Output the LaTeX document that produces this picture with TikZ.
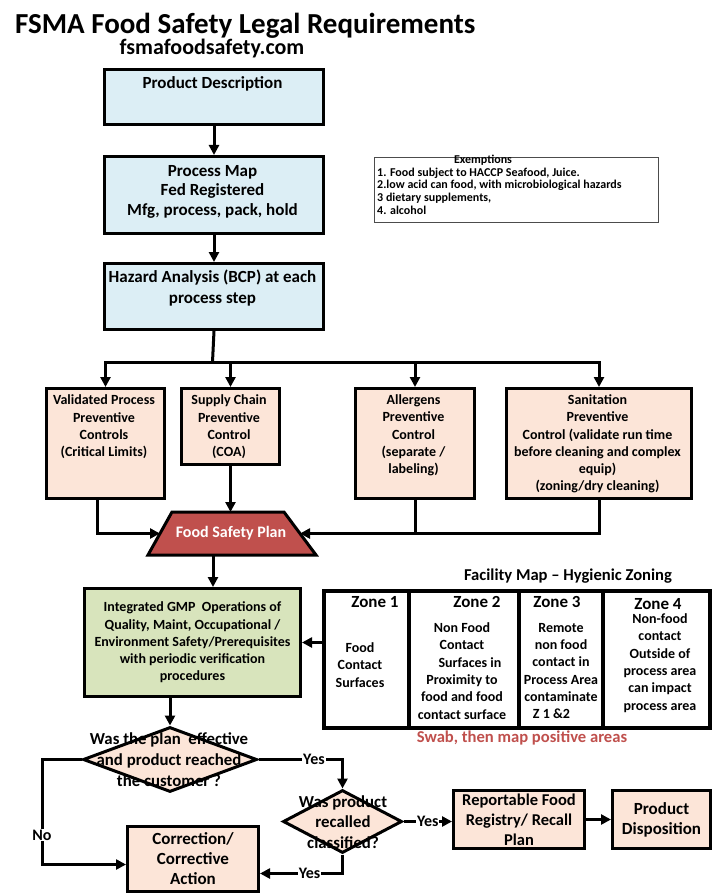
\documentclass[tikz,border=0pt]{standalone}
\usepackage{fontspec}
\setmainfont{Carlito}
\usetikzlibrary{arrows.meta,shapes.geometric,calc}
\definecolor{boxblue}{HTML}{DCEEF5}
\definecolor{boxpeach}{HTML}{FCE5D8}
\definecolor{boxgreen}{HTML}{D8E4BC}
\definecolor{planred}{HTML}{C0504D}
\begin{document}
\begin{tikzpicture}[x=1pt,y=-1pt,
  flowbox/.style={draw=black, line width=3pt, inner sep=0pt, anchor=north west, align=center},
  bluebox/.style={flowbox, fill=boxblue},
  peachbox/.style={flowbox, fill=boxpeach},
  greenbox/.style={flowbox, fill=boxgreen},
  zonecell/.style={draw=black, line width=4pt, fill=white, inner sep=0pt, anchor=north west},
  ftxt/.style={font=\bfseries\fontsize{14}{17.3}\selectfont, align=center, inner sep=0pt},
  btxt/.style={font=\bfseries\fontsize{17}{19.5}\selectfont, align=center, inner sep=0pt},
  ztitle/.style={font=\bfseries\fontsize{17}{20}\selectfont, inner sep=0pt},
  extxt/.style={font=\bfseries\fontsize{12}{12.7}\selectfont, inner sep=0pt},
  decision/.style={diamond, draw=black, line width=3pt, fill=boxpeach, inner sep=0pt},
  conn/.style={line width=3pt, -{Triangle[length=10pt,width=10pt]}},
  wire/.style={line width=3pt},
  lbl/.style={font=\bfseries\fontsize{16}{19}\selectfont, fill=white, inner sep=1pt}
]
\useasboundingbox[fill=white] (0,0) rectangle (712,896);

% titles
\node[font=\bfseries\fontsize{29}{33}\selectfont, anchor=base west, inner sep=0pt] (title) at (15,33.5) {FSMA Food Safety Legal Requirements};
\node[font=\bfseries\fontsize{22}{26}\selectfont, anchor=base, inner sep=0pt] (site) at (212,54.5) {fsmafoodsafety.com};

% top chain
\node[bluebox, minimum width=219pt, minimum height=55pt] (pd) at (103,68) {};
\node[btxt] (pdt) at (212.5,84) {Product Description};
\node[bluebox, minimum width=219pt, minimum height=77pt] (pm) at (103,155) {};
\node[btxt] (pmt) at (212.5,191.5) {Process Map\\Fed Registered\\Mfg, process, pack, hold};
\node[bluebox, minimum width=219pt, minimum height=66pt] (ha) at (103,262) {};
\node[btxt, font=\bfseries\fontsize{17}{21}\selectfont] (hat) at (212.5,288.5) {Hazard Analysis (BCP) at each\\process step};

% exemptions
\node[draw=black!70, line width=0.8pt, minimum width=284pt, minimum height=65pt, anchor=north west, inner sep=0pt] (ex) at (374,157) {};
\node[extxt] (ext) at (483,160) {Exemptions};
\node[extxt, align=left, anchor=west] (exl) at (377,191) {1. Food subject to HACCP Seafood, Juice.\\2.low acid can food, with microbiological hazards\\3 dietary supplements,\\4. alcohol};

% control boxes
\node[peachbox, minimum width=118pt, minimum height=110pt] (vp) at (45,387) {};
\node[ftxt] (vpt) at (104,427) {Validated Process\\Preventive\\Controls\\(Critical Limits)};
\node[peachbox, minimum width=98pt, minimum height=76pt] (sc) at (180,387) {};
\node[ftxt] (sct) at (229,427) {Supply Chain\\Preventive\\Control\\(COA)};
\node[peachbox, minimum width=119pt, minimum height=110pt] (al) at (354,387) {};
\node[ftxt] (alt) at (413.5,435.5) {Allergens\\Preventive\\Control\\(separate /\\labeling)};
\node[peachbox, minimum width=185pt, minimum height=110pt] (sn) at (505,387) {};
\node[ftxt] (snt) at (597.5,444) {Sanitation\\Preventive\\Control (validate run time\\before cleaning and complex\\equip)\\(zoning/dry cleaning)};

% food safety plan (trapezoid)
\coordinate (fsptl) at (172,512);
\coordinate (fsptr) at (284,512);
\coordinate (fspbr) at (316,555);
\coordinate (fspbl) at (148,555);
\draw[fill=planred, line width=3pt, line join=miter] (fsptl) -- (fsptr) -- (fspbr) -- (fspbl) -- cycle;
\node[text=white, font=\bfseries\fontsize{16}{19}\selectfont, inner sep=0pt] (fsp) at (231,533.5) {Food Safety Plan};
\coordinate (fspw) at ($(fsptl)!0.5!(fspbl)$);
\coordinate (fspe) at ($(fsptr)!0.5!(fspbr)$);
\coordinate (fspout) at (213,555);

% GMP
\node[greenbox, minimum width=216pt, minimum height=108pt, font=\bfseries\fontsize{14}{17.2}\selectfont] (gmp) at (83,587)
  {Integrated GMP\ \ Operations of\\Quality, Maint, Occupational /\\Environment Safety/Prerequisites\\with periodic verification\\procedures};

% zone table
\node[font=\bfseries\fontsize{16.6}{19}\selectfont, inner sep=0pt] (fm) at (568,576) {Facility Map -- Hygienic Zoning};
\node[zonecell, minimum width=85pt, minimum height=137pt] (z1) at (322,589) {};
\node[zonecell, minimum width=110pt, minimum height=137pt] (z2) at (407,589) {};
\node[zonecell, minimum width=84pt, minimum height=137pt] (z3) at (517,589) {};
\node[zonecell, minimum width=107pt, minimum height=137pt] (z4) at (601,589) {};
\node[ztitle] (z1t) at (375,602) {Zone 1};
\node[ztitle] (z2t) at (477,602) {Zone 2};
\node[ztitle] (z3t) at (557,602) {Zone 3};
\node[ztitle] (z4t) at (658,604) {Zone 4};
\node[ftxt] (z1b) at (360,665) {Food\\Contact\\Surfaces};
\node[ftxt] (z2b) at (462,671) {Non Food\\Contact\\\hspace*{16pt}Surfaces in\\Proximity to\\food and food\\contact surface};
\node[ftxt] (z3b) at (561,671) {Remote\\non food\\contact in\\Process Area\\contaminate\\Z 1 \&2\kern19pt};
\node[ftxt] (z4b) at (660,663) {Non-food\\contact\\Outside of\\process area\\can impact\\process area};
\node[font=\bfseries\fontsize{16.6}{19}\selectfont, text=planred, inner sep=0pt] (swab) at (522,738) {Swab, then map positive areas};

% decisions and actions
\node[decision, minimum width=174pt, minimum height=65pt] (d1) at (170,759.5) {};
\node[btxt, font=\bfseries\fontsize{16.8}{21}\selectfont] (d1t) at (169,760) {Was the plan\ \ effective\\and product reached\\the customer ?};
\node[decision, minimum width=119pt, minimum height=63pt] (d2) at (342.5,821.5) {};
\node[btxt, font=\bfseries\fontsize{16.8}{20.5}\selectfont] (d2t) at (343,822) {Was product\\recalled\\classified?};
\node[peachbox, minimum width=131pt, minimum height=58pt, font=\bfseries\fontsize{16.5}{20}\selectfont] (rep) at (452,789) {Reportable Food\\Registry/ Recall\\Plan};
\node[peachbox, minimum width=98pt, minimum height=58pt, font=\bfseries\fontsize{17}{20}\selectfont] (pdisp) at (611,789) {Product\\Disposition};
\node[peachbox, minimum width=131pt, minimum height=65pt, font=\bfseries\fontsize{17}{20}\selectfont] (corr) at (126,825) {Correction/\\Corrective\\Action};
\coordinate (nocorner) at (42,759.5);
\coordinate (bus) at (212.5,362);

% connectors
\draw[conn] (pd.south) -- (pm.north);
\draw[conn] (pm.south) -- (ha.north);
\draw[wire] (ha.south) -- (bus);
\draw[conn] (bus) -| (vp.north);
\draw[conn] (bus) -| (sc.north);
\draw[conn] (bus) -| (al.north);
\draw[conn] (bus) -| (sn.north);
\draw[conn] ([xshift=-8pt]vp.south) |- (fspw);
\draw[conn] (sc.south) -- (sc.south |- fsptl);
\draw[wire] (al.south) -- (al.south |- fspe);
\draw[conn] (sn.south) |- (fspe);
\draw[conn] (fspout) -- (fspout |- gmp.north);
\draw[conn] (z1.west |- gmp.east) -- (gmp.east);
\draw[conn] (d1.north |- gmp.south) -- (d1.north);
\draw[conn] (d1.east) -| (d2.north) node[lbl, pos=0.33] {Yes};
\draw[conn] (d2.east) -- (d2.east -| rep.west) node[lbl, midway] {Yes};
\draw[conn] (rep.east) -- (pdisp.west);
\draw[conn] (d2.south) |- ([yshift=-14.5pt]corr.east) node[lbl, pos=0.7] {Yes};
\draw[conn] (d1.west) -- (nocorner) |- ([yshift=-5.5pt]corr.west) node[lbl, pos=0.36] {No};
\end{tikzpicture}
\end{document}
